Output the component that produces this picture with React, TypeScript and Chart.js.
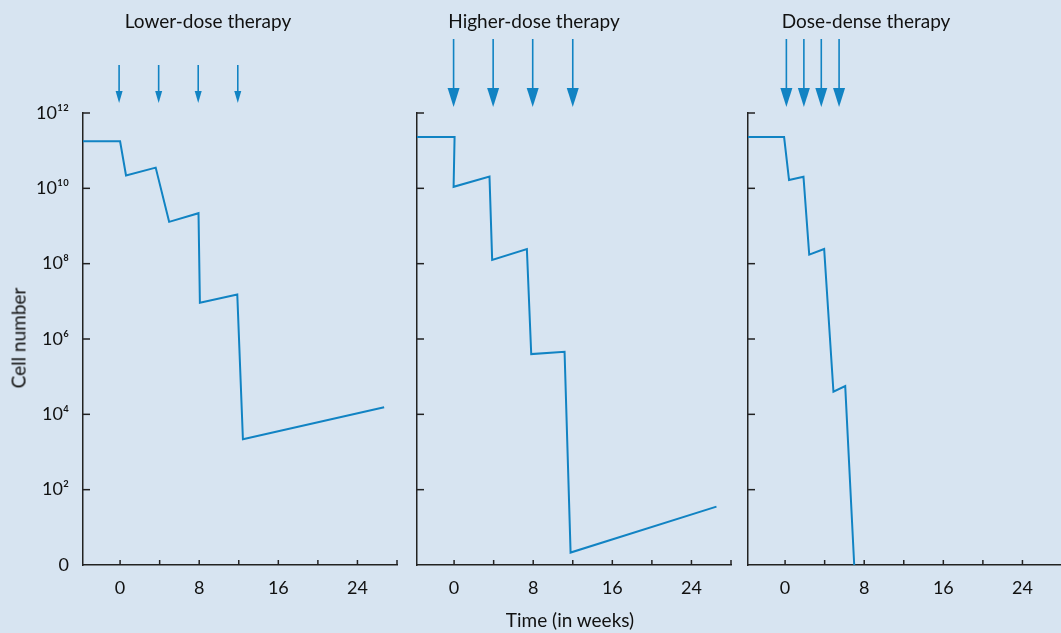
import React, { useEffect, useRef } from 'react';
import { Chart, registerables } from 'chart.js';

Chart.register(...registerables);

// ---- data ----
const weekTicks = [0, 4, 8, 12, 16, 20, 24, 28];
const weekTickLabels = [0, 8, 16, 24];
const cellTicks = [0, 2, 4, 6, 8, 10, 12];
const cellTickLabels = ['0', '10²', '10⁴', '10⁶', '10⁸', '10¹⁰', '10¹²'];

const lowerWeeks = [-3.75, 0, 0.6, 3.6, 4.96, 7.93, 8.07, 11.85, 12.42, 26.7];
const lowerLogCells = [11.25, 11.25, 10.34, 10.55, 9.11, 9.34, 6.96, 7.18, 3.34, 4.19];
const lowerDoses = [-0.1, 3.9, 7.9, 11.9];

const higherWeeks = [-3.75, 0.05, -0.05, 3.58, 3.85, 7.36, 7.8, 11.17, 11.78, 26.53];
const higherLogCells = [11.36, 11.36, 10.04, 10.31, 8.1, 8.39, 5.6, 5.66, 0.33, 1.55];
const higherDoses = [-0.05, 3.95, 7.95, 12.0];

const denseWeeks = [-3.75, -0.1, 0.4, 1.86, 2.44, 3.95, 4.89, 6.08, 6.99];
const denseLogCells = [11.36, 11.36, 10.22, 10.31, 8.24, 8.39, 4.6, 4.75, 0];
const denseDoses = [0.13, 1.9, 3.66, 5.46];

const titles = ['Lower-dose therapy', 'Higher-dose therapy', 'Dose-dense therapy'];

// ---- styles ----
const BG = '#d7e4f1';
const LINE = '#1183c3';
const AXIS = '#222222';
const TEXT = '#111111';
const FONT = 'Lato, "Open Sans", sans-serif';

const innerTicks = {
  id: 'innerTicks',
  afterDraw(chart: any) {
    const ctx = chart.ctx;
    const { left, bottom } = chart.chartArea;
    const xs = chart.scales.x;
    const ys = chart.scales.y;
    ctx.save();
    ctx.strokeStyle = AXIS;
    ctx.lineWidth = 1.5;
    xs.ticks.forEach((t: any) => {
      const px = xs.getPixelForValue(t.value);
      ctx.beginPath();
      ctx.moveTo(px, bottom);
      ctx.lineTo(px, bottom - 5);
      ctx.stroke();
    });
    ys.ticks.forEach((t: any) => {
      if (t.value === 0) return;
      const py = ys.getPixelForValue(t.value);
      ctx.beginPath();
      ctx.moveTo(left, py);
      ctx.lineTo(left + 7, py);
      ctx.stroke();
    });
    ctx.restore();
  },
};

const doseArrows = {
  id: 'doseArrows',
  afterDraw(chart: any, _args: any, opts: any) {
    const doses: number[] = opts.doses || [];
    const ctx = chart.ctx;
    const top = chart.chartArea.top;
    const xs = chart.scales.x;
    ctx.save();
    ctx.strokeStyle = LINE;
    ctx.fillStyle = LINE;
    ctx.lineWidth = 1.6;
    doses.forEach((d) => {
      const px = xs.getPixelForValue(d);
      const y0 = top + opts.start;
      const y1 = top + opts.tip;
      ctx.beginPath();
      ctx.moveTo(px, y0);
      ctx.lineTo(px, y1 - opts.headLen + 1);
      ctx.stroke();
      ctx.beginPath();
      ctx.moveTo(px - opts.headW / 2, y1 - opts.headLen);
      ctx.lineTo(px + opts.headW / 2, y1 - opts.headLen);
      ctx.lineTo(px, y1);
      ctx.closePath();
      ctx.fill();
    });
    ctx.restore();
  },
};

type PanelProps = {
  weeks: number[];
  cells: number[];
  doses: number[];
  left: number;
  showY: boolean;
  arrow: { start: number; tip: number; headW: number; headLen: number };
};

function Panel({ weeks, cells, doses, left, showY, arrow }: PanelProps) {
  const ref = useRef<HTMLCanvasElement | null>(null);
  useEffect(() => {
    if (!ref.current) return;
    const chart = new Chart(ref.current, {
      type: 'line',
      data: {
        datasets: [
          {
            data: weeks.map((w, i) => ({ x: w, y: cells[i] })),
            borderColor: LINE,
            borderWidth: 2,
            pointRadius: 0,
            tension: 0,
            fill: false,
            clip: false as any,
          },
        ],
      },
      options: {
        animation: false,
        responsive: false,
        devicePixelRatio: 1,
        layout: { padding: { top: 113, right: 13, left: 0, bottom: 0 } },
        plugins: {
          legend: { display: false },
          tooltip: { enabled: false },
          title: { display: false },
          doseArrows: { doses, ...arrow },
        } as any,
        scales: {
          x: {
            type: 'linear',
            min: -3.75,
            max: 28,
            afterBuildTicks: (s: any) => {
              s.ticks = weekTicks.map((v) => ({ value: v }));
            },
            afterFit: (s: any) => {
              s.height = 68;
            },
            grid: { display: true, drawOnChartArea: false, drawTicks: false },
            border: { display: true, color: AXIS, width: 1.5 },
            ticks: {
              padding: 12,
              autoSkip: false,
              maxRotation: 0,
              color: TEXT,
              font: { family: FONT, size: 18 },
              callback: (v: any) => (weekTickLabels.includes(Number(v)) ? String(v) : ''),
            },
          },
          y: {
            type: 'linear',
            min: 0,
            max: 12,
            afterBuildTicks: (s: any) => {
              s.ticks = cellTicks.map((v) => ({ value: v }));
            },
            afterFit: (s: any) => {
              s.width = 83;
            },
            grid: { display: true, drawOnChartArea: false, drawTicks: false },
            border: { display: true, color: AXIS, width: 1.5 },
            ticks: {
              display: showY,
              padding: 14,
              color: TEXT,
              font: { family: FONT, size: 18 },
              callback: (v: any) => cellTickLabels[cellTicks.indexOf(Number(v))] ?? '',
            },
          },
        },
      },
      plugins: [innerTicks, doseArrows],
    });
    return () => chart.destroy();
  }, []);
  return (
    <div style={{ position: 'absolute', left, top: 0, width: 410, height: 633 }}>
      <canvas ref={ref} width={410} height={633} style={{ display: 'block' }} />
    </div>
  );
}

const labelStyle: React.CSSProperties = {
  position: 'absolute',
  transform: 'translate(-50%, -50%)',
  fontFamily: FONT,
  fontSize: 19,
  color: TEXT,
  whiteSpace: 'nowrap',
  lineHeight: 1,
};

export default function App() {
  const small = { start: -48, tip: -10, headW: 7, headLen: 12 };
  const big = { start: -74, tip: -6, headW: 12, headLen: 19 };
  return (
    <div
      style={{
        position: 'fixed',
        left: 0,
        top: 0,
        width: 1061,
        height: 633,
        background: BG,
        overflow: 'hidden',
      }}
    >
      <Panel weeks={lowerWeeks} cells={lowerLogCells} doses={lowerDoses} left={0} showY={true} arrow={small} />
      <Panel weeks={higherWeeks} cells={higherLogCells} doses={higherDoses} left={334} showY={false} arrow={big} />
      <Panel weeks={denseWeeks} cells={denseLogCells} doses={denseDoses} left={665} showY={false} arrow={big} />
      <div style={{ ...labelStyle, left: 208, top: 20 }}>{titles[0]}</div>
      <div style={{ ...labelStyle, left: 534, top: 20 }}>{titles[1]}</div>
      <div style={{ ...labelStyle, left: 866, top: 20 }}>{titles[2]}</div>
      <div style={{ ...labelStyle, left: 18, top: 338, transform: 'translate(-50%, -50%) rotate(-90deg)' }}>
        Cell number
      </div>
      <div style={{ ...labelStyle, left: 570, top: 619 }}>Time (in weeks)</div>
    </div>
  );
}
